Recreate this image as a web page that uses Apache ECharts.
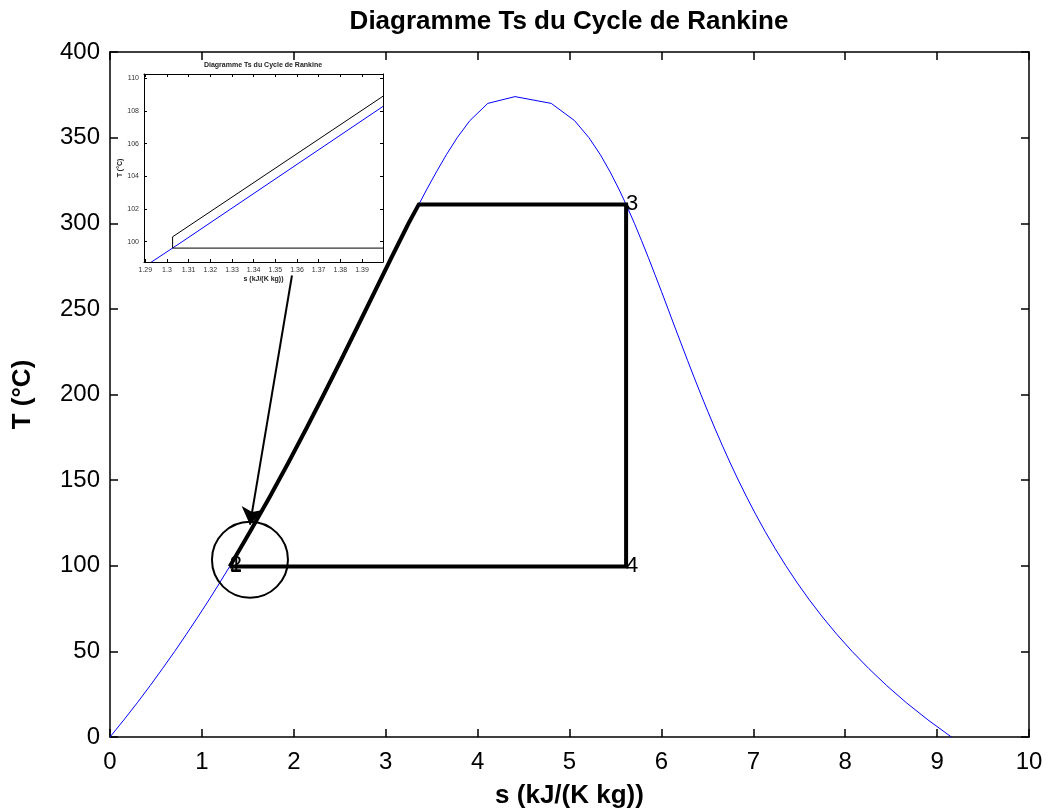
<!DOCTYPE html>
<html>
<head>
<meta charset="utf-8">
<title>Diagramme Ts du Cycle de Rankine</title>
<script src="https://cdn.jsdelivr.net/npm/echarts@6/dist/echarts.min.js"></script>
<style>
  html, body { margin: 0; padding: 0; background: #fff; }
  #chart { width: 1057px; height: 810px; }
</style>
</head>
<body>
<div id="chart"></div>
<script>
  // saturation dome of water (T in °C, s in kJ/(K kg))
  const satT = [0, 10, 20, 30, 40, 50, 60, 70, 80, 90, 100, 110, 120, 130, 140, 150, 160, 170, 180, 190,
    200, 210, 220, 230, 240, 250, 260, 270, 280, 290, 300, 310, 320, 330, 340, 350, 360, 370];
  const satLiqS = [0, 0.151, 0.297, 0.437, 0.572, 0.704, 0.831, 0.955, 1.076, 1.193, 1.307, 1.419, 1.528, 1.635, 1.739, 1.842, 1.943, 2.042, 2.139, 2.236,
    2.331, 2.425, 2.518, 2.610, 2.702, 2.794, 2.885, 2.977, 3.069, 3.161, 3.255, 3.351, 3.449, 3.552, 3.660, 3.778, 3.917, 4.111];
  const satVapS = [9.156, 8.900, 8.666, 8.452, 8.256, 8.075, 7.908, 7.754, 7.611, 7.478, 7.354, 7.238, 7.129, 7.026, 6.929, 6.837, 6.749, 6.665, 6.584, 6.506,
    6.430, 6.356, 6.284, 6.213, 6.142, 6.072, 6.002, 5.930, 5.858, 5.783, 5.706, 5.624, 5.537, 5.442, 5.336, 5.211, 5.054, 4.801];
  const critS = 4.407;
  const critT = 373.95;

  // Rankine cycle path 1 -> 2 -> 3 -> 4 -> 1
  const cycleS = [1.3026, 1.3026, 1.525, 1.736, 1.939, 2.135, 2.326, 2.513, 2.697, 2.880, 3.063, 3.249, 3.3603, 5.6159, 5.6159, 1.3026];
  const cycleT = [99.61, 100.3, 120, 140, 160, 180, 200, 220, 240, 260, 280, 300, 311.0, 311.0, 99.61, 99.61];

  // state point labels
  const pointNames = ['2', '1', '3', '4'];
  const pointS = [1.3026, 1.3026, 5.6159, 5.6159];
  const pointT = [100.3, 99.61, 311.0, 99.61];

  // zoom annotation: circle around state 1 and arrow from the inset
  const circleAt = [1.523, 103.5];
  const arrowFrom = [1.98, 269.5];
  const arrowTo = [1.523, 124];

  // tick labels
  const mainXTicks = [0, 1, 2, 3, 4, 5, 6, 7, 8, 9, 10];
  const mainYTicks = [0, 50, 100, 150, 200, 250, 300, 350, 400];
  const insetXTicks = [1.29, 1.30, 1.31, 1.32, 1.33, 1.34, 1.35, 1.36, 1.37, 1.38, 1.39];
  const insetYTicks = [100, 102, 104, 106, 108, 110];

  const dome = [];
  satT.forEach((t, i) => dome.push([satLiqS[i], t]));
  dome.push([critS, critT]);
  for (let i = satT.length - 1; i >= 0; i--) dome.push([satVapS[i], satT[i]]);

  const cycle = cycleS.map((s, i) => [s, cycleT[i]]);
  const points = pointS.map((s, i) => [s, pointT[i], pointNames[i]]);

  const FONT = 'Liberation Sans, Arial, sans-serif';

  function boxAxis(extra) {
    return Object.assign({
      type: 'value',
      splitLine: { show: false },
      axisLine: { show: true, onZero: false, lineStyle: { color: '#000', width: 1.5 } },
      axisTick: { show: true, inside: true, length: 8, lineStyle: { color: '#000', width: 1.5 } },
      axisLabel: { show: false }
    }, extra);
  }

  function insetAxis(extra) {
    return Object.assign({
      type: 'value',
      splitLine: { show: false },
      axisLine: { show: true, onZero: false, lineStyle: { color: '#000', width: 1 } },
      axisTick: { show: true, inside: true, length: 3, lineStyle: { color: '#000', width: 1 } },
      axisLabel: { show: false }
    }, extra);
  }

  const myChart = echarts.init(document.getElementById('chart'), null, { renderer: 'canvas' });

  const option = {
    backgroundColor: '#fff',
    animation: false,
    textStyle: { fontFamily: FONT },
    graphic: [
      {
        type: 'text', x: 569, y: 9,
        style: { text: 'Diagramme Ts du Cycle de Rankine', font: 'bold 26px ' + FONT, fill: '#000', textAlign: 'center' }
      },
      {
        type: 'text', x: 263, y: 62, z: 20,
        style: { text: 'Diagramme Ts du Cycle de Rankine', font: 'bold 7px ' + FONT, fill: '#222', textAlign: 'center' }
      }
    ],
    grid: [
      { left: 110, right: 28, top: 52, bottom: 73, outerBoundsMode: 'none' },
      { left: 144, top: 74, width: 239, height: 188, show: true, backgroundColor: '#fff', borderWidth: 0, z: 5,
        outerBoundsMode: 'none' }
    ],
    xAxis: [
      boxAxis({
        gridIndex: 0, position: 'bottom', min: 0, max: 10, interval: 1,
        axisLabel: { show: true, color: '#000', fontSize: 24, fontFamily: FONT, margin: 13,
          customValues: mainXTicks },
        name: 's (kJ/(K kg))', nameLocation: 'middle', nameGap: 46,
        nameTextStyle: { color: '#000', fontSize: 26, fontWeight: 'bold', fontFamily: FONT }
      }),
      boxAxis({ gridIndex: 0, position: 'top', min: 0, max: 10, interval: 1 }),
      insetAxis({
        gridIndex: 1, position: 'bottom', min: 1.2894, max: 1.3997, z: 10,
        axisTick: { show: true, inside: true, length: 3, customValues: insetXTicks, lineStyle: { color: '#000' } },
        axisLabel: { show: true, color: '#333', fontSize: 7, margin: 5, fontFamily: FONT,
          customValues: insetXTicks, formatter: v => String(+v.toFixed(2)) },
        name: 's (kJ/(K kg))', nameLocation: 'middle', nameGap: 14,
        nameTextStyle: { color: '#222', fontSize: 7, fontWeight: 'bold', fontFamily: FONT }
      }),
      insetAxis({
        gridIndex: 1, position: 'top', min: 1.2894, max: 1.3997, z: 10,
        axisTick: { show: true, inside: true, length: 3, customValues: insetXTicks, lineStyle: { color: '#000' } }
      })
    ],
    yAxis: [
      boxAxis({
        gridIndex: 0, position: 'left', min: 0, max: 400, interval: 50,
        axisLabel: { show: true, color: '#000', fontSize: 24, fontFamily: FONT, margin: 10,
          customValues: mainYTicks },
        name: 'T (°C)', nameLocation: 'middle', nameGap: 74, nameRotate: 90,
        nameTextStyle: { color: '#000', fontSize: 26, fontWeight: 'bold', fontFamily: FONT }
      }),
      boxAxis({ gridIndex: 0, position: 'right', min: 0, max: 400, interval: 50 }),
      insetAxis({
        gridIndex: 1, position: 'left', min: 98.76, max: 110.26, z: 10,
        axisTick: { show: true, inside: true, length: 3, customValues: insetYTicks, lineStyle: { color: '#000' } },
        axisLabel: { show: true, color: '#333', fontSize: 7, margin: 5, fontFamily: FONT,
          customValues: insetYTicks },
        name: 'T (°C)', nameLocation: 'middle', nameGap: 17, nameRotate: 90,
        nameTextStyle: { color: '#222', fontSize: 7, fontWeight: 'bold', fontFamily: FONT }
      }),
      insetAxis({
        gridIndex: 1, position: 'right', min: 98.76, max: 110.26, z: 10,
        axisTick: { show: true, inside: true, length: 3, customValues: insetYTicks, lineStyle: { color: '#000' } }
      })
    ],
    series: [
      {
        name: 'saturation', type: 'line', xAxisIndex: 0, yAxisIndex: 0,
        data: dome, showSymbol: false, symbol: 'none', silent: true,
        lineStyle: { color: '#0000ff', width: 1 }, z: 2
      },
      {
        name: 'cycle', type: 'line', xAxisIndex: 0, yAxisIndex: 0,
        data: cycle, showSymbol: false, symbol: 'none', silent: true,
        lineStyle: { color: '#000', width: 4, join: 'miter' }, z: 3
      },
      {
        name: 'labels', type: 'scatter', xAxisIndex: 0, yAxisIndex: 0,
        data: points, symbolSize: 0, silent: true, z: 4,
        itemStyle: { opacity: 1 },
        label: { show: true, position: 'right', distance: 0, formatter: p => p.value[2],
          color: '#000', fontSize: 22, fontFamily: FONT }
      },
      {
        name: 'circle', type: 'scatter', xAxisIndex: 0, yAxisIndex: 0,
        data: [circleAt], symbol: 'circle', symbolSize: 76, silent: true, z: 4,
        itemStyle: { color: 'rgba(0,0,0,0)', borderColor: '#000', borderWidth: 2, opacity: 1 }
      },
      {
        name: 'arrow', type: 'lines', coordinateSystem: 'cartesian2d', xAxisIndex: 0, yAxisIndex: 0,
        symbol: ['none', 'arrow'], symbolSize: 17, silent: true, z: 4,
        lineStyle: { color: '#000', width: 2, opacity: 1, curveness: 0 },
        itemStyle: { color: '#000' },
        data: [{ coords: [arrowFrom, arrowTo] }]
      },
      {
        name: 'saturation zoom', type: 'line', xAxisIndex: 2, yAxisIndex: 2,
        data: dome, showSymbol: false, symbol: 'none', silent: true, clip: true,
        lineStyle: { color: '#0000ff', width: 1 }, z: 6
      },
      {
        name: 'cycle zoom', type: 'line', xAxisIndex: 2, yAxisIndex: 2,
        data: cycle, showSymbol: false, symbol: 'none', silent: true, clip: true,
        lineStyle: { color: '#000', width: 1 }, z: 7
      }
    ]
  };

  option && myChart.setOption(option);
</script>
</body>
</html>
